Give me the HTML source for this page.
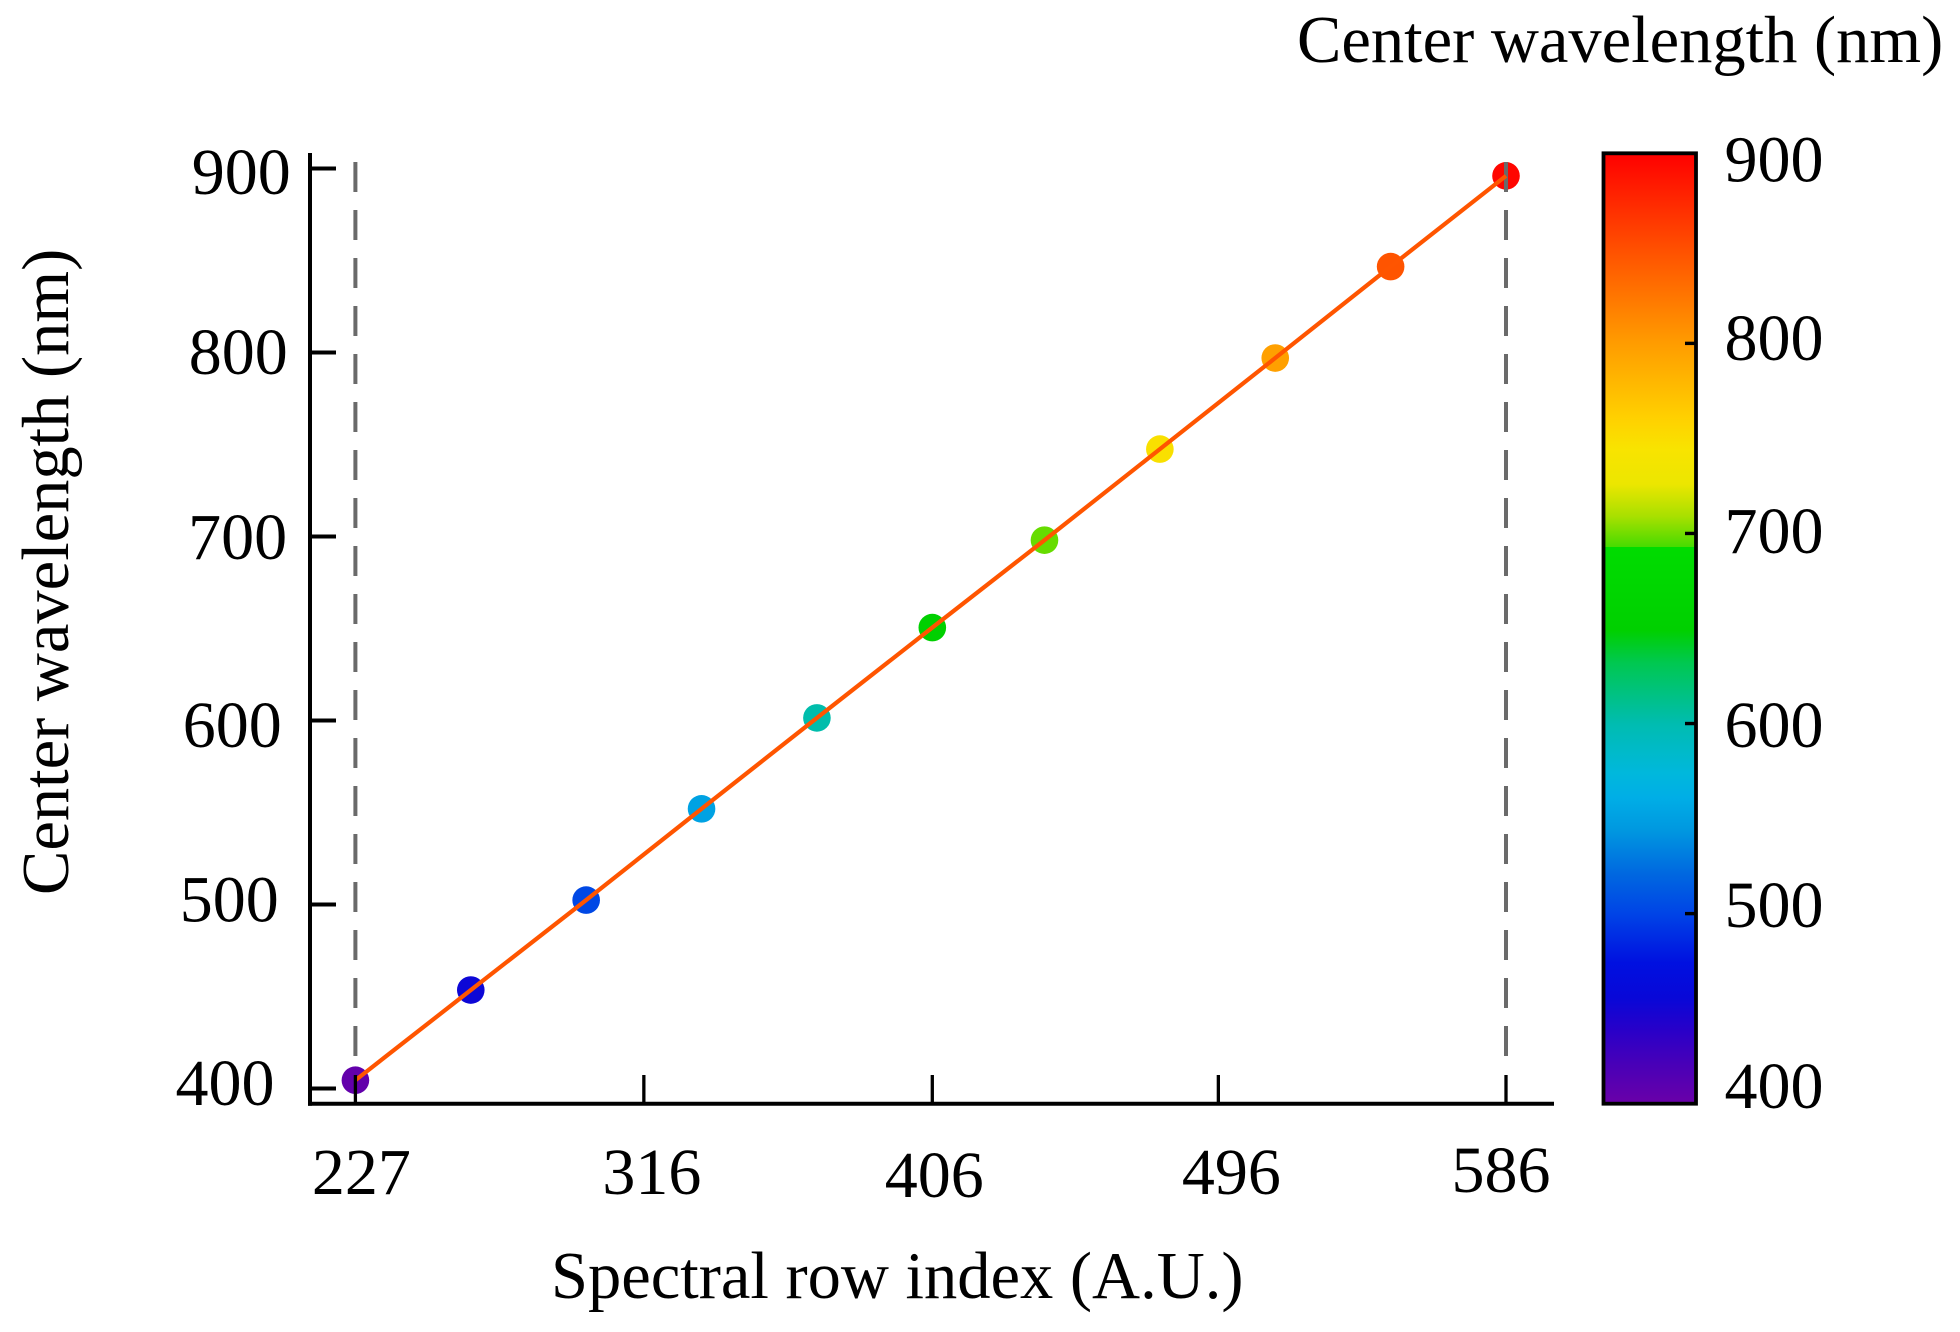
<!DOCTYPE html>
<html lang="en">
<head>
<meta charset="utf-8">
<title>Center wavelength vs spectral row index</title>
<style>
  html, body { margin: 0; padding: 0; background: #fff; }
  svg { display: block; }
  text { font-family: "Liberation Serif", serif; font-size: 66px; fill: #000; }
  text.title { font-size: 66.5px; }
</style>
</head>
<body>
<svg id="chart" xmlns="http://www.w3.org/2000/svg" width="1960" height="1332" viewBox="0 0 1960 1332">
  <defs>
    <linearGradient id="rainbow" x1="0" y1="1" x2="0" y2="0"></linearGradient>
  </defs>
  <rect x="0" y="0" width="1960" height="1332" fill="#ffffff"/>
  <g id="dots"></g>
  <g id="guides"></g>
  <g id="line"></g>
  <g id="axes"></g>
  <g id="colorbar"></g>
  <text class="title" x="551" y="1298">Spectral row index (A.U.)</text>
  <text class="title" transform="translate(68,895) rotate(-90)">Center wavelength (nm)</text>
  <text class="title" x="1297" y="62">Center wavelength (nm)</text>
</svg>
<script>
// Chart data
const rowIndex = [227, 263, 299, 335, 371, 407, 442, 478, 514, 550, 586];
const wavelength = [404.5, 453.5, 502.4, 552, 601.4, 650.5, 698, 747.5, 797, 846.7, 896];
const guideRows = [227, 586];
const xTickValues = [227, 317, 407, 496.25, 586];
const xTickLabels = ['227', '316', '406', '496', '586'];
const yTickValues = [400, 500, 600, 700, 800, 900];
const yTickLabels = ['400', '500', '600', '700', '800', '900'];
const colorbarTickValues = [400, 500, 600, 700, 800, 900];
const colorbarTickLabels = ['400', '500', '600', '700', '800', '900'];
const colormapValues = [400, 421, 438, 456, 474, 500, 521, 544, 561, 574, 600, 632, 649, 693, 693, 697, 709, 726, 744, 761, 800, 846, 900];
const colormapColors = ['#6a00a8', '#4800b8', '#2a00c8', '#0808d8', '#0010e0', '#0044e6', '#0068e0', '#0098e0', '#00aee6', '#00b8dc', '#00bcb0', '#00c850', '#00d000', '#00dc00', '#48dc00', '#60dc00', '#a8e000', '#ece600', '#f8e400', '#ffd000', '#ff9c00', '#ff5500', '#ff0000'];

// Layout-only label nudges (the source figure's hand-placed labels)
const xLabelShiftX = [6, 8, 2, 13, -5];
const xLabelShiftY = [0, 0, 3, 0, -2];
const yLabelShiftX = [0, 1.2, 1.2, 3.6, 1.2, 1.2];
const yLabelShiftY = [16.5, 17, 26.7, 22.3, 21.3, 25.3];
const cbLabelShiftY = [4.3, 13.3, 23.3, 19.6, 16.6, 28.4];

const NS = 'http://www.w3.org/2000/svg';
function xScale(v) { return 355.4 + (v - 227) * (1506 - 355.4) / (586 - 227); }
function yScale(v) { return 1088.5 - (v - 400) * 1.84; }
function cbScale(v) { return 1103.7 - (v - 400) * 1.9008; }
function hexToRgb(h) { return [1, 3, 5].map(function (i) { return parseInt(h.substr(i, 2), 16); }); }
function colormap(v) {
  if (v <= colormapValues[0]) return colormapColors[0];
  for (let i = 1; i < colormapValues.length; i++) {
    if (v <= colormapValues[i] && colormapValues[i] > colormapValues[i - 1]) {
      const t = (v - colormapValues[i - 1]) / (colormapValues[i] - colormapValues[i - 1]);
      const a = hexToRgb(colormapColors[i - 1]);
      const b = hexToRgb(colormapColors[i]);
      return 'rgb(' + a.map(function (c, k) { return Math.round(c + (b[k] - c) * t); }).join(',') + ')';
    }
  }
  return colormapColors[colormapColors.length - 1];
}
function make(parent, tag, attrs, text) {
  const el = document.createElementNS(NS, tag);
  Object.keys(attrs).forEach(function (k) { el.setAttribute(k, attrs[k]); });
  if (text !== undefined) el.textContent = text;
  parent.appendChild(el);
  return el;
}

const dotsG = document.getElementById('dots');
const guidesG = document.getElementById('guides');
const lineG = document.getElementById('line');
const axesG = document.getElementById('axes');
const cbG = document.getElementById('colorbar');
const grad = document.getElementById('rainbow');

// Gradient stops
colormapValues.forEach(function (v, i) {
  make(grad, 'stop', { offset: (v - 400) / 500, 'stop-color': colormapColors[i] });
});

// Points
rowIndex.forEach(function (r, i) {
  const dot = make(dotsG, 'circle', { cx: xScale(r), cy: yScale(wavelength[i]), r: 13.8, fill: colormap(wavelength[i]) });
  
  
});

// Dashed guides
guideRows.forEach(function (r) {
  const g = make(guidesG, 'line', { x1: xScale(r), x2: xScale(r), y1: 162, y2: 1056, stroke: '#6a6a6a', 'stroke-width': 4, 'stroke-dasharray': '30 18' });
  
  
});

// Line
const fitLine = make(lineG, 'polyline', {
  points: rowIndex.map(function (r, i) { return xScale(r) + ',' + yScale(wavelength[i]); }).join(' '),
  fill: 'none', stroke: '#ff5500', 'stroke-width': 4.2
});



// Axes
const yAxisLine = make(axesG, 'line', { x1: 310, x2: 310, y1: 153, y2: 1105.7, stroke: '#000', 'stroke-width': 4 });


const xAxisLine = make(axesG, 'line', { x1: 308, x2: 1554, y1: 1103.7, y2: 1103.7, stroke: '#000', 'stroke-width': 4 });



yTickValues.forEach(function (v, i) {
  const y = yScale(v);
  const tick = make(axesG, 'line', { x1: 310, x2: 336, y1: y, y2: y, stroke: '#000', 'stroke-width': 4 });
  
  
  const label = make(axesG, 'text', { x: 274.5 + (v - 400) * 0.03 + yLabelShiftX[i], y: y + yLabelShiftY[i], 'text-anchor': 'end' }, yTickLabels[i]);
  
  
});

xTickValues.forEach(function (v, i) {
  const x = xScale(v);
  const tick = make(axesG, 'line', { x1: x, x2: x, y1: 1075, y2: 1103.7, stroke: '#000', 'stroke-width': 3.3 });
  
  
  const label = make(axesG, 'text', { x: x + xLabelShiftX[i], y: 1194 + xLabelShiftY[i], 'text-anchor': 'middle' }, xTickLabels[i]);
  
  
});

// Colorbar
const cbRect = make(cbG, 'rect', { x: 1603.5, y: cbScale(900), width: 92.5, height: cbScale(400) - cbScale(900), fill: 'url(#rainbow)', stroke: '#000', 'stroke-width': 3.8 });



colorbarTickValues.forEach(function (v, i) {
  const y = cbScale(v);
  if (v > 400 && v < 900) {
    const tick = make(cbG, 'line', { x1: 1685, x2: 1696, y1: y, y2: y, stroke: '#000', 'stroke-width': 3.4 });
    
    
  }
  const label = make(cbG, 'text', { x: 1724.5, y: y + cbLabelShiftY[i] }, colorbarTickLabels[i]);
  
  
});
</script>
</body>
</html>
